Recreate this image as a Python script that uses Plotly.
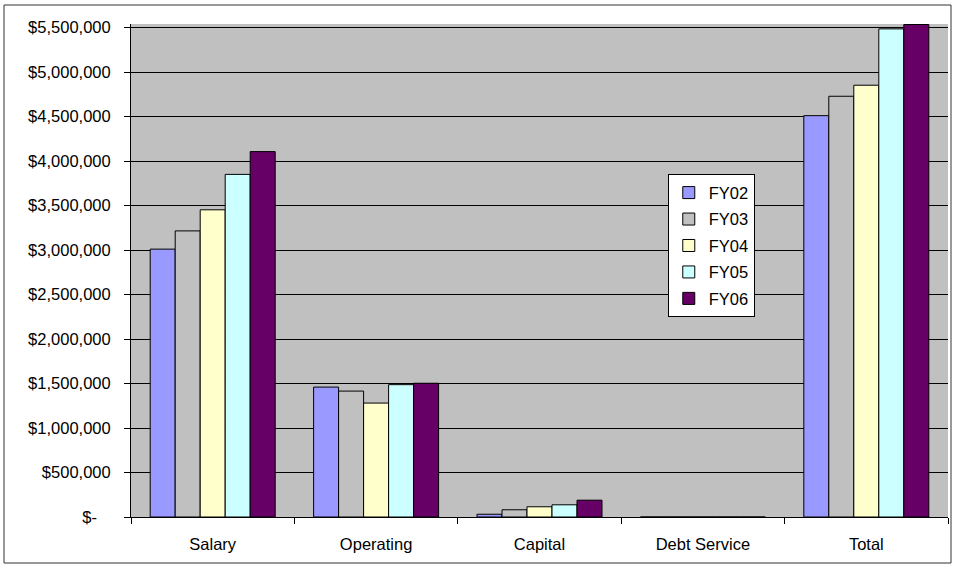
import plotly.graph_objects as go

categories = ["Salary", "Operating", "Capital", "Debt Service", "Total"]
series_names = ["FY02", "FY03", "FY04", "FY05", "FY06"]
fy02 = [3010000, 1460000, 31000, 0, 4510000]
fy03 = [3215000, 1415000, 81000, 0, 4728000]
fy04 = [3452000, 1280000, 115000, 0, 4852000]
fy05 = [3850000, 1487000, 137000, 0, 5485000]
fy06 = [4106000, 1503000, 189000, 0, 5534000]
series_values = [fy02, fy03, fy04, fy05, fy06]
colors = ["#9999FF", "#C0C0C0", "#FFFFCC", "#CCFFFF", "#660066"]

tick_vals = [0, 500000, 1000000, 1500000, 2000000, 2500000, 3000000,
             3500000, 4000000, 4500000, 5000000, 5500000]
tick_text = ["$-\u00a0\u00a0\u00a0"] + ["${:,}".format(v) for v in tick_vals[1:]]

FONT = "Liberation Sans, Arial, sans-serif"

fig = go.Figure()
for name, vals, col in zip(series_names, series_values, colors):
    fig.add_trace(go.Bar(
        x=categories, y=vals, name=name, legendgroup=name,
        marker=dict(color=col, line=dict(color="black", width=1)),
    ))

fig.update_layout(
    width=956, height=565,
    margin=dict(l=131, r=8, t=24, b=48),
    paper_bgcolor="white",
    plot_bgcolor="#C0C0C0",
    barmode="group",
    bargap=0.235,
    bargroupgap=0,
    font=dict(family=FONT, size=16, color="black"),
    legend=dict(
        x=0.657, y=0.695, xanchor="left", yanchor="top",
        bgcolor="white", bordercolor="black", borderwidth=1,
        font=dict(family=FONT, size=16.5, color="black"),
        tracegroupgap=2,
        itemwidth=30,
    ),
    xaxis=dict(
        showline=True, linecolor="black", linewidth=1,
        ticks="outside", ticklen=6, tickcolor="black",
        tickson="boundaries", showgrid=False,
        ticklabelstandoff=12,
        tickfont=dict(family=FONT, size=16.5, color="black"),
    ),
    yaxis=dict(
        range=[0, 5540000],
        tickvals=tick_vals, ticktext=tick_text,
        showline=True, linecolor="black", linewidth=1,
        ticks="outside", ticklen=6, tickcolor="black",
        ticklabelstandoff=10,
        showgrid=True, gridcolor="black", gridwidth=1,
        zeroline=False,
        tickfont=dict(family=FONT, size=16.5, color="black"),
    ),
    shapes=[dict(
        type="rect", xref="paper", yref="paper",
        x0=(4 - 131) / 817, x1=(951 - 131) / 817,
        y0=(517 - 563) / 493, y1=(517 - 5) / 493,
        line=dict(color="#333333", width=1), fillcolor="rgba(0,0,0,0)",
        layer="below",
    )],
)

fig.write_html(
    "out.html",
    config={"displayModeBar": False},
    post_script="document.body.style.margin='0';document.body.style.overflow='hidden';",
)
